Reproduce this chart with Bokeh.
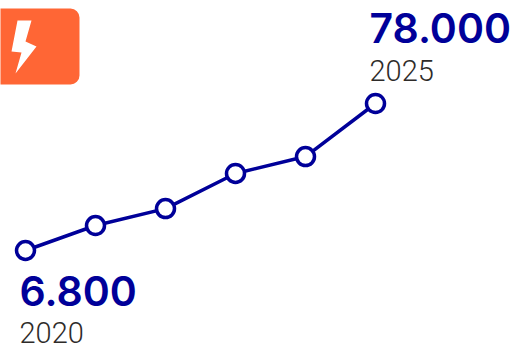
from bokeh.core.properties import value
from bokeh.embed import file_html
from bokeh.models import BoxAnnotation, ColumnDataSource, PolyAnnotation, Range1d
from bokeh.plotting import figure
from bokeh.resources import INLINE

years = [2020, 2021, 2022, 2023, 2024, 2025]
amounts = [6800, 18900, 27100, 44100, 52300, 78000]
end_years = [2020, 2025]
end_amounts = [6800, 78000]
end_labels = ["6.800", "78.000"]
end_year_labels = ["2020", "2025"]

NAVY = "#000099"
W, H = 513, 345

# Axis ranges are chosen so the series sits in the plot with room for the labels.
PX_PER_YEAR = 70
PX_PER_UNIT = (78000 - 6800) / 147
x_range = Range1d(2020 - 25 / PX_PER_YEAR, 2025 + 138 / PX_PER_YEAR)
y_range = Range1d(6800 - 95 * PX_PER_UNIT, 78000 + 103 * PX_PER_UNIT)

p = figure(width=W, height=H, x_range=x_range, y_range=y_range,
           output_backend="svg", toolbar_location=None,
           min_border=0, outline_line_color=None, background_fill_color="white")
p.axis.visible = False
p.grid.visible = False

# Orange badge with a lightning bolt, clipped by the left edge.
p.add_layout(BoxAnnotation(left=-12, right=79, top=H - 8, bottom=H - 84,
                           left_units="screen", right_units="screen",
                           top_units="screen", bottom_units="screen",
                           fill_color="#FF6635", fill_alpha=1, line_color=None,
                           border_radius=9, level="underlay"))
bolt_x = [17, 31, 25, 36, 15, 21, 11]
bolt_y = [20, 20, 41, 46, 73, 52, 51]
p.add_layout(PolyAnnotation(xs=bolt_x, ys=[H - v for v in bolt_y],
                            xs_units="screen", ys_units="screen",
                            fill_color="white", fill_alpha=1, line_color=None,
                            level="underlay"))

series = ColumnDataSource(data=dict(x=years, y=amounts))
p.line("x", "y", source=series, line_color=NAVY, line_width=3.5)
p.scatter("x", "y", source=series, size=18, marker="circle",
          fill_color="white", line_color=NAVY, line_width=3.5)

# Value and year captions at both ends of the line.
value_offsets = [40, -76]
year_offsets = [82, -33]
captions = ColumnDataSource(data=dict(x=end_years, y=end_amounts, value=end_labels,
                                      year=end_year_labels, vo=value_offsets, yo=year_offsets))
p.text("x", "y", text="value", source=captions, x_offset=-6, y_offset="vo",
       text_font=value("Inter SemiBold"), text_font_size="41px",
       text_color=NAVY, text_baseline="alphabetic", text_align="left")
p.text("x", "y", text="year", source=captions, x_offset=-6, y_offset="yo",
       text_font=value("Roboto Light"), text_font_size="29px",
       text_color="#2e2b29", text_baseline="alphabetic", text_align="left")

open("out.html", "w").write(file_html(p, INLINE))
